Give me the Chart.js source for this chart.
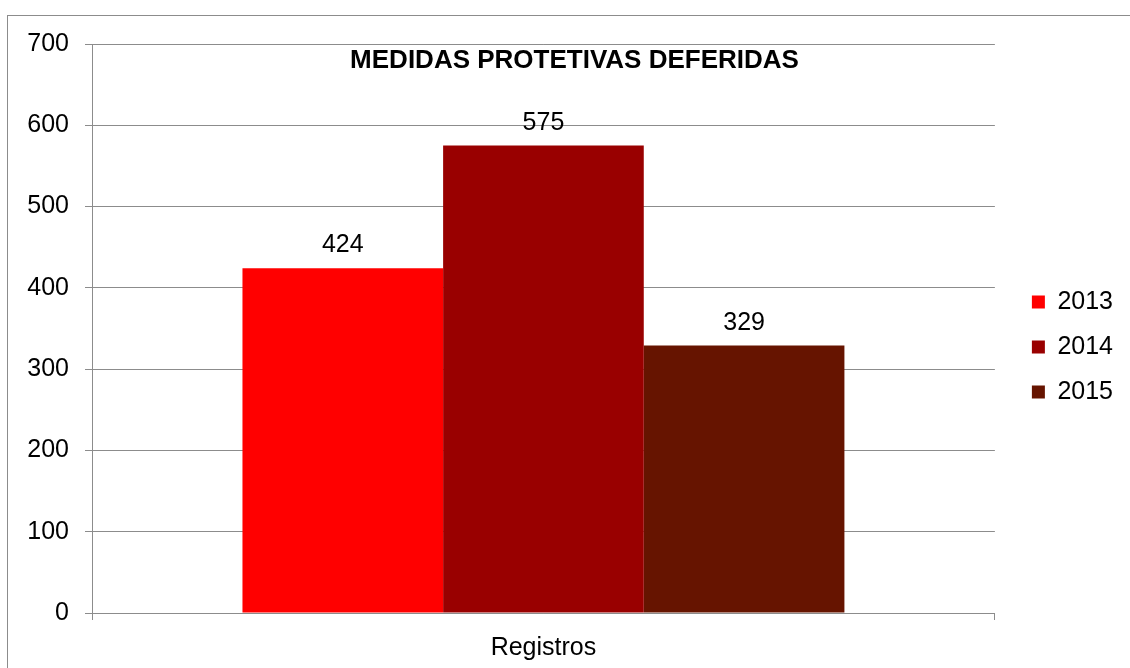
<!DOCTYPE html>
<html>
<head>
<meta charset="utf-8">
<script src="https://cdn.jsdelivr.net/npm/chart.js@4.4.1/dist/chart.umd.min.js"></script>
<style>
  html, body { margin: 0; padding: 0; background: #ffffff; overflow: hidden; }
  #wrap { position: relative; width: 1130px; height: 668px; }
  #frame { position: absolute; left: 7px; top: 15px; width: 2000px; height: 2000px;
           border-left: 1px solid #8c8c8c; border-top: 1px solid #8c8c8c; box-sizing: border-box; pointer-events: none; }
  canvas { position: absolute; left: 0; top: 0; }
</style>
</head>
<body>
<div id="wrap">
  <canvas id="c" width="1130" height="668"></canvas>
  <div id="frame"></div>
</div>
<script>
const chartTitle = 'MEDIDAS PROTETIVAS DEFERIDAS';
const categories = ['Registros'];
const seriesNames = ['2013', '2014', '2015'];
const series2013 = [424];
const series2014 = [575];
const series2015 = [329];
const seriesColors = ['#ff0000', '#990000', '#661400'];
const yMin = 0, yMax = 700, yStep = 100;

const FONT = "'Liberation Sans', Arial, sans-serif";
const GRID = '#8c8c8c';

const valueLabels = {
  id: 'valueLabels',
  afterDatasetsDraw(chart) {
    const ctx = chart.ctx;
    ctx.save();
    ctx.font = '25px ' + FONT;
    ctx.fillStyle = '#000000';
    ctx.textAlign = 'center';
    ctx.textBaseline = 'alphabetic';
    chart.data.datasets.forEach((ds, i) => {
      const meta = chart.getDatasetMeta(i);
      meta.data.forEach((bar, j) => {
        ctx.fillText(String(ds.data[j]), bar.x, bar.y - 16);
      });
    });
    ctx.restore();
  }
};

new Chart(document.getElementById('c'), {
  type: 'bar',
  data: {
    labels: categories,
    datasets: [
      { label: seriesNames[0], data: series2013, backgroundColor: seriesColors[0], borderWidth: 0 },
      { label: seriesNames[1], data: series2014, backgroundColor: seriesColors[1], borderWidth: 0 },
      { label: seriesNames[2], data: series2015, backgroundColor: seriesColors[2], borderWidth: 0 }
    ]
  },
  options: {
    responsive: false,
    animation: false,
    devicePixelRatio: 1,
    layout: { padding: { left: 26, top: 26, right: 7, bottom: 0 } },
    datasets: { bar: { categoryPercentage: 0.6667, barPercentage: 1.0 } },
    plugins: {
      tooltip: { enabled: false },
      title: {
        display: true,
        text: chartTitle,
        color: '#000000',
        font: { family: FONT, size: 26, weight: 'bold', lineHeight: 1.2 },
        padding: { top: 19.4, bottom: -32.6 }
      },
      legend: {
        display: true,
        position: 'right',
        align: 'center',
        labels: {
          color: '#000000',
          font: { family: FONT, size: 25 },
          boxWidth: 13,
          boxHeight: 13,
          padding: 20
        }
      }
    },
    scales: {
      x: {
        type: 'category',
        offset: true,
        grid: { display: true, drawOnChartArea: false, drawTicks: true, tickLength: 7, color: GRID, offset: true },
        border: { display: true, color: GRID },
        ticks: { color: '#000000', font: { family: FONT, size: 25 }, padding: 13 },
        afterFit(s) { s.height = 55; }
      },
      y: {
        type: 'linear',
        position: 'left',
        min: yMin,
        max: yMax,
        ticks: { stepSize: yStep, color: '#000000', font: { family: FONT, size: 25 }, padding: 16 },
        grid: { display: true, drawTicks: true, tickLength: 7, color: GRID },
        border: { display: true, color: GRID },
        afterFit(s) { s.width = 66; }
      },
      yR: {
        type: 'linear',
        position: 'right',
        display: true,
        grid: { display: false, drawTicks: false },
        border: { display: false },
        ticks: { display: false },
        afterFit(s) { s.width = 17; }
      }
    }
  },
  plugins: [valueLabels]
});
</script>
</body>
</html>
